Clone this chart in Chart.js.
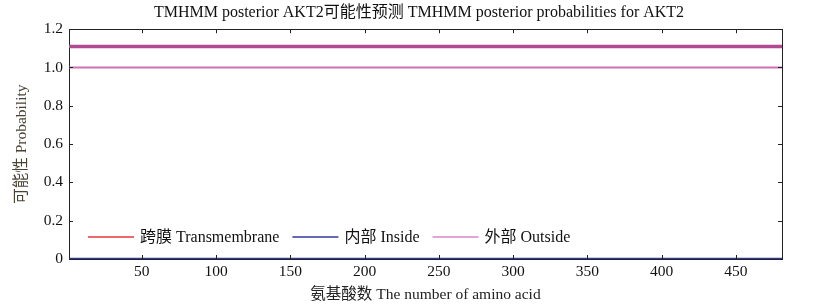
<!DOCTYPE html>
<html lang="zh">

<head>
    <meta charset="UTF-8">
    <title>TMHMM AKT2</title>
    <script src="https://cdn.jsdelivr.net/npm/chart.js"></script>
    <style>
        body {
            margin: 0;
            background: #fff;
        }

        .container {
            width: 838px;
            height: 304px;
        }
    </style>
</head>

<body>
    <div class="container">
        <canvas id="grafico" width="838" height="304"></canvas>
    </div>
    <script>
        // residue positions (AKT2 is 481 aa long)
        const positions = [1, 481];
        const transmembrane = [0, 0];
        const inside = [0, 0];
        const outside = [1.0, 1.0];
        const outsideBar = [1.11, 1.11];   // thick "outside" region bar at the top

        const xTicks = [50, 100, 150, 200, 250, 300, 350, 400, 450];
        const yTicks = [0, 0.2, 0.4, 0.6, 0.8, 1.0, 1.2];
        const yTickLabels = ['0', '0.2', '0.4', '0.6', '0.8', '1.0', '1.2'];

        const FONT = "'Liberation Serif', 'Noto Sans CJK SC', serif";

        function pts(ys) {
            return positions.map((x, i) => ({ x: x, y: ys[i] }));
        }

        // legend drawn inside the plot, bottom-left, like the original figure
        const innerLegend = {
            id: 'innerLegend',
            afterDatasetsDraw(chart) {
                const ctx = chart.ctx;
                const area = chart.chartArea;
                let x = area.left + 19;
                const y = area.bottom - 22;
                const items = chart.data.datasets.filter(ds => ds.legendOrder).sort((a, b) => a.legendOrder - b.legendOrder);
                ctx.save();
                ctx.font = '16px ' + FONT;
                ctx.textBaseline = 'middle';
                items.forEach(ds => {
                    ctx.strokeStyle = ds.legendColor || ds.borderColor;
                    ctx.lineWidth = 1.5;
                    ctx.beginPath();
                    ctx.moveTo(x, y);
                    ctx.lineTo(x + 46, y);
                    ctx.stroke();
                    x += 52;
                    ctx.fillStyle = '#111';
                    ctx.fillText(ds.label, x, y + 1);
                    x += ctx.measureText(ds.label).width + 13;
                });
                ctx.restore();
            }
        };

        // short inward tick marks on all four sides, placed with the chart's own scales
        const inwardTicks = {
            id: 'inwardTicks',
            afterDraw(chart) {
                const ctx = chart.ctx;
                const a = chart.chartArea;
                const xs = chart.scales.x, ys = chart.scales.y;
                const len = 4;
                ctx.save();
                ctx.strokeStyle = '#222';
                ctx.lineWidth = 1;
                ctx.beginPath();
                xTicks.forEach(v => {
                    const px = Math.round(xs.getPixelForValue(v)) + 0.5;
                    ctx.moveTo(px, a.bottom); ctx.lineTo(px, a.bottom - len);
                    ctx.moveTo(px, a.top); ctx.lineTo(px, a.top + len);
                });
                yTicks.forEach(v => {
                    const py = Math.round(ys.getPixelForValue(v)) + 0.5;
                    ctx.moveTo(a.left, py); ctx.lineTo(a.left + len, py);
                    ctx.moveTo(a.right, py); ctx.lineTo(a.right - len, py);
                });
                ctx.stroke();
                ctx.restore();
            }
        };

        function setTicks(list) {
            return function (scale) {
                scale.ticks = list.map(v => ({ value: v }));
            };
        }

        const ctx = document.getElementById('grafico').getContext('2d');
        new Chart(ctx, {
            type: 'line',
            data: {
                datasets: [
                    { label: '内部 Inside', data: pts(inside), borderColor: '#3038a0', borderWidth: 2.5, legendOrder: 2 },
                    { label: '跨膜 Transmembrane', data: pts(transmembrane), borderColor: '#e23a3a', borderWidth: 1.5, legendOrder: 1 },
                    { label: '外部 Outside', data: pts(outside), borderColor: '#d070b8', borderWidth: 2, legendOrder: 3, legendColor: '#d888c8' },
                    { label: 'outside region', data: pts(outsideBar), borderColor: '#b24a92', borderWidth: 3.5 }
                ]
            },
            options: {
                responsive: false,
                animation: false,
                elements: { point: { radius: 0 }, line: { tension: 0 } },
                layout: { padding: 0 },
                plugins: {
                    legend: { display: false },
                    tooltip: { enabled: false },
                    title: {
                        display: true,
                        text: 'TMHMM posterior AKT2可能性预测 TMHMM posterior probabilities for AKT2',
                        color: '#111',
                        font: { family: FONT, size: 16, weight: 'normal' },
                        padding: { top: 3, bottom: 2 }
                    }
                },
                scales: {
                    x: {
                        type: 'linear',
                        position: 'bottom',
                        min: 1,
                        max: 481,
                        afterBuildTicks: setTicks(xTicks),
                        afterFit(s) { s.height = 45; },
                        grid: { display: false, drawTicks: false },
                        border: { color: '#222', width: 1 },
                        ticks: { padding: 4, color: '#111', maxRotation: 0, font: { family: FONT, size: 15.5 } },
                        title: {
                            display: true,
                            text: '氨基酸数 The number of amino acid',
                            color: '#222',
                            font: { family: FONT, size: 15.5 },
                            padding: { top: 0, bottom: 0 }
                        }
                    },
                    x2: {
                        type: 'linear',
                        position: 'top',
                        min: 1,
                        max: 481,
                        afterBuildTicks: setTicks(xTicks),
                        afterFit(s) { s.height = 5; },
                        grid: { display: false, drawTicks: false },
                        border: { color: '#222', width: 1 },
                        ticks: { display: false }
                    },
                    y: {
                        position: 'left',
                        min: 0,
                        max: 1.2,
                        afterBuildTicks: setTicks(yTicks),
                        afterFit(s) { s.width = 69; },
                        grid: { display: false, drawTicks: false },
                        border: { color: '#222', width: 1 },
                        ticks: {
                            padding: 6,
                            color: '#111',
                            font: { family: FONT, size: 15.5 },
                            callback: (v) => yTickLabels[yTicks.indexOf(v)]
                        },
                        title: {
                            display: true,
                            text: '可能性 Probability',
                            color: '#4a4232',
                            font: { family: FONT, size: 15.5 },
                            padding: { top: 13, bottom: 0 }
                        }
                    },
                    y2: {
                        position: 'right',
                        min: 0,
                        max: 1.2,
                        afterBuildTicks: setTicks(yTicks),
                        afterFit(s) { s.width = 56; },
                        grid: { display: false, drawTicks: false },
                        border: { color: '#222', width: 1 },
                        ticks: { display: false }
                    }
                }
            },
            plugins: [innerLegend, inwardTicks]
        });
    </script>
</body>

</html>
